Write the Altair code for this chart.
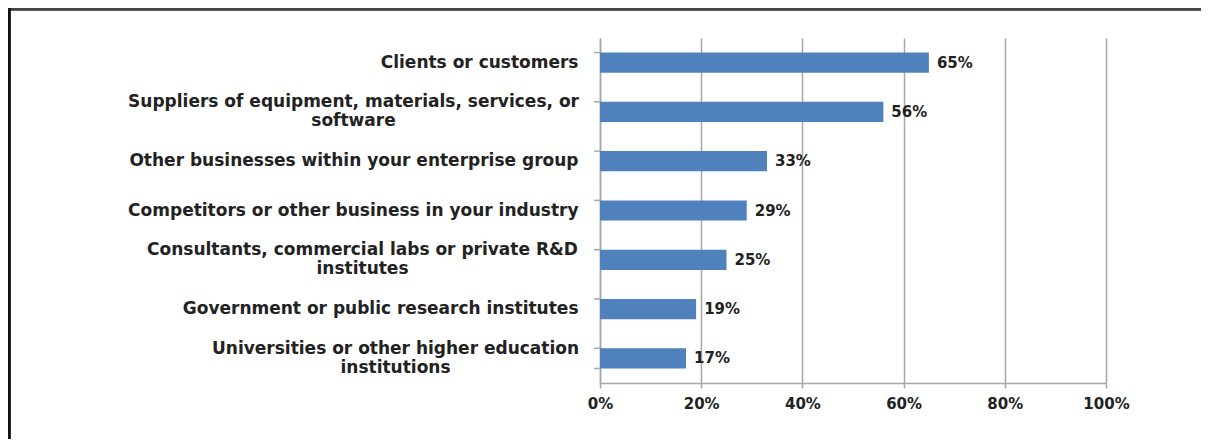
import altair as alt
import pandas as pd

categories = [
    "Clients or customers",
    "Suppliers of equipment, materials, services, or\nsoftware",
    "Other businesses within your enterprise group",
    "Competitors or other business in your industry",
    "Consultants, commercial labs or private R&D\ninstitutes",
    "Government or public research institutes",
    "Universities or other higher education\ninstitutions",
]
values = [65, 56, 33, 29, 25, 19, 17]
x_ticks = [0, 20, 40, 60, 80, 100]

df = pd.DataFrame({"cat": categories, "val": values})
df["label"] = df["val"].astype(str) + "%"

FONT = "DejaVu Sans"
TEXT = "#222222"
GRID = "#a6a6a6"
CAT_SIZE = 17
LINE_H = 19

# two-line labels are centred as a block, right edge at the axis gap
multi = "indexof(datum.value, '\\n') >= 0"
label_align = {"condition": {"test": multi, "value": "center"}, "value": "right"}
label_offset = {"condition": {"test": multi, "value": -LINE_H / 2}, "value": 0}
label_padding = {
    "condition": [
        {"test": "indexof(datum.value, 'Suppliers') == 0", "value": 247},
        {"test": "indexof(datum.value, 'Consultants') == 0", "value": 238},
        {"test": "indexof(datum.value, 'Universities') == 0", "value": 205},
    ],
    "value": 22,
}

yscale = alt.Scale(domain=categories, paddingInner=0.59, paddingOuter=0.295)
xscale = alt.Scale(domain=[0, 100], nice=False)

base = alt.Chart(df)

bars = base.mark_bar(color="#4f81bd").encode(
    x=alt.X(
        "val:Q",
        scale=xscale,
        title=None,
        axis=alt.Axis(
            values=x_ticks,
            labelExpr="datum.value + '%'",
            labelFlush=False,
            grid=True,
            gridColor=GRID,
            gridWidth=1.5,
            domainColor=GRID,
            domainWidth=1.5,
            tickColor=GRID,
            tickSize=5,
            tickWidth=1.5,
            labelFont=FONT,
            labelFontWeight="bold",
            labelFontSize=15,
            labelColor=TEXT,
            labelPadding=8,
        ),
    ),
    y=alt.Y(
        "cat:N",
        scale=yscale,
        sort=categories,
        title=None,
        axis=alt.Axis(
            ticks=False,
            labelExpr="split(datum.label, '\\n')",
            labelFont=FONT,
            labelFontWeight="bold",
            labelFontSize=CAT_SIZE,
            labelColor=TEXT,
            labelLineHeight=LINE_H,
            labelAlign=label_align,
            labelOffset=label_offset,
            labelPadding=label_padding,
            labelLimit=700,
            domainColor=GRID,
            domainWidth=1.5,
            grid=False,
        ),
    ),
)

texts = base.mark_text(
    align="left", baseline="middle", dx=8, font=FONT, fontWeight="bold",
    fontSize=15, color=TEXT
).encode(
    x=alt.X("val:Q", scale=xscale),
    y=alt.Y("cat:N", scale=yscale, sort=categories),
    text="label:N",
)

band_ticks = base.mark_rule(color=GRID, strokeWidth=1.5).encode(
    y=alt.Y("cat:N", scale=yscale, sort=categories, bandPosition=0),
    x=alt.value(-6),
    x2=alt.value(0),
)
last_tick = base.transform_filter(
    alt.datum.cat == categories[-1]
).mark_rule(color=GRID, strokeWidth=1.5).encode(
    y=alt.Y("cat:N", scale=yscale, sort=categories, bandPosition=1),
    x=alt.value(-6),
    x2=alt.value(0),
)

frame_top = base.mark_rule(color="#444444", strokeWidth=2.5).encode(
    x=alt.value(-592), x2=alt.value(601), y=alt.value(-29)
)
frame_left = base.mark_rule(color="#111111", strokeWidth=2.5).encode(
    x=alt.value(-591), y=alt.value(-30), y2=alt.value(401)
)

chart = (
    alt.layer(bars, texts, band_ticks, last_tick, frame_top, frame_left)
    .properties(
        width=506,
        height=345,
        autosize=alt.AutoSizeParams(type="none"),
        padding={"left": 592, "top": 30, "right": 95, "bottom": 56},
        background="white",
    )
    .configure_view(stroke=None)
)

chart.save("out.html", embed_options={"renderer": "svg", "actions": False})
